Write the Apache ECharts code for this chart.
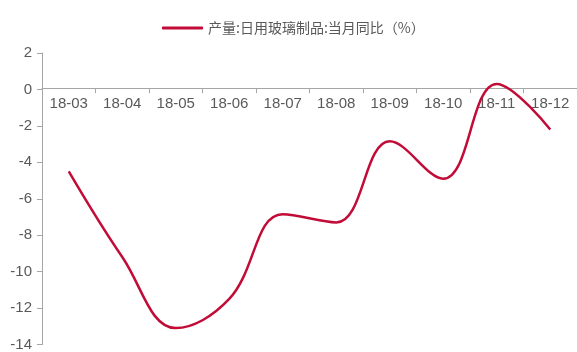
<!DOCTYPE html>
<html>
<head>
<meta charset="utf-8">
<script src="https://cdn.jsdelivr.net/npm/echarts@6/dist/echarts.min.js"></script>
<style>
html,body{margin:0;padding:0;background:#fff;}
#chart{width:577px;height:352px;}
</style>
</head>
<body>
<div id="chart"></div>
<script>
// Monthly output of daily-use glassware, year-on-year change (%)
const months = ['18-03','18-04','18-05','18-06','18-07','18-08','18-09','18-10','18-11','18-12'];
const yoyValues = [-4.5, -9.2, -13.1, -11.5, -6.85, -7.3, -2.85, -4.9, 0.3, -2.2];
const seriesName = '产量:日用玻璃制品:当月同比（%）';
const yTicks = { min: -14, max: 2, interval: 2 };

const lineColor = '#C20C38';
const axisColor = '#A6A6A6';
const textColor = '#595959';

const gridTop = 53;
const gridBottom = 6;
const chartHeight = 352;
const plotHeight = chartHeight - gridTop - gridBottom;
// shift the category axis (line, ticks and labels) up to the zero line
const zeroOffset = -plotHeight * (0 - yTicks.min) / (yTicks.max - yTicks.min);

const chart = echarts.init(document.getElementById('chart'));
chart.setOption({
  animation: false,
  legend: {
    top: 16,
    left: 157,
    data: [{ name: seriesName, icon: 'roundRect' }],
    itemWidth: 41,
    itemHeight: 3,
    itemGap: 4,
    textStyle: { color: textColor, fontSize: 14, fontFamily: 'Noto Sans CJK SC' }
  },
  grid: { left: 42, top: gridTop, width: 539, bottom: gridBottom, containLabel: false },
  xAxis: {
    type: 'category',
    data: months,
    boundaryGap: true,
    position: 'bottom',
    offset: zeroOffset,
    axisLine: { onZero: false, lineStyle: { color: axisColor, width: 1 } },
    axisTick: { show: true, length: 5, lineStyle: { color: axisColor } },
    axisLabel: { color: textColor, fontSize: 15, fontFamily: 'Liberation Sans', margin: 8, interval: 0 }
  },
  yAxis: {
    type: 'value',
    min: yTicks.min,
    max: yTicks.max,
    interval: yTicks.interval,
    axisLine: { show: true, lineStyle: { color: axisColor, width: 1 } },
    axisTick: { show: true, length: 5, lineStyle: { color: axisColor } },
    splitLine: { show: false },
    axisLabel: { color: textColor, fontSize: 15, fontFamily: 'Liberation Sans', margin: 10 }
  },
  series: [{
    name: seriesName,
    type: 'line',
    data: yoyValues,
    smooth: 0.4,
    symbol: 'none',
    lineStyle: { color: lineColor, width: 2.5 },
    itemStyle: { color: lineColor }
  }]
});
</script>
</body>
</html>
